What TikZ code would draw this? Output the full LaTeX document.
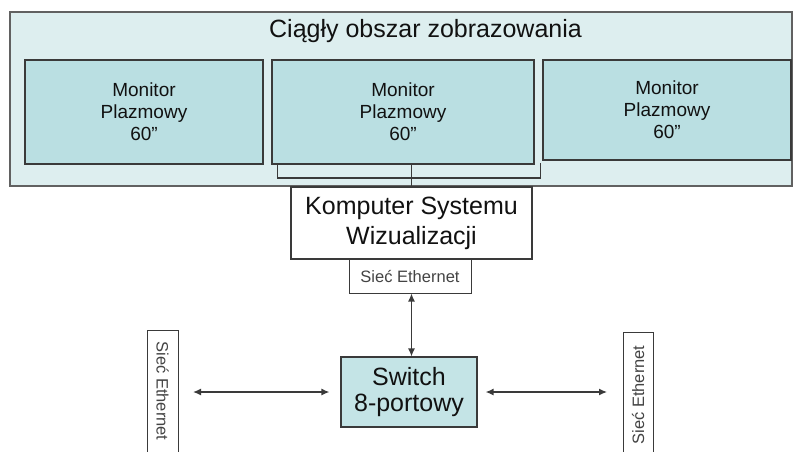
\documentclass[tikz,border=0pt]{standalone}
\usepackage{fontspec}
\setmainfont{Liberation Sans}
\usetikzlibrary{arrows.meta,calc}
\definecolor{areafill}{HTML}{DDEEEF}
\definecolor{monfill}{HTML}{BADFE2}
\definecolor{edge}{HTML}{3A3A3A}
\definecolor{txt}{HTML}{111111}
\definecolor{smalltxt}{HTML}{444444}
\begin{document}
\begin{tikzpicture}[x=1pt,y=-1pt,
  area/.style={draw=edge!80,line width=1.4pt,fill=areafill},
  monitor/.style={draw=edge,line width=1.2pt,fill=monfill,inner sep=0pt,align=center,
    font=\fontsize{19}{22}\selectfont,text=txt},
  bigbox/.style={draw=edge,line width=1.2pt,fill=white,inner sep=0pt,align=center,
    font=\fontsize{25}{30}\selectfont,text=txt},
  switchbox/.style={draw=edge,line width=1.2pt,fill=monfill!85,inner sep=0pt,align=center,
    font=\fontsize{25}{26}\selectfont,text=txt},
  netbox/.style={draw=edge,line width=1pt,fill=white,inner sep=0pt,align=center,
    font=\fontsize{16.5}{18}\selectfont,text=smalltxt},
  link/.style={draw=edge,line width=1.2pt},
  arr/.style={draw=edge,line width=1.3pt,{Latex[length=8pt,width=7pt]}-{Latex[length=8pt,width=7pt]}}
]
\useasboundingbox (0,0) rectangle (794,451);

% continuous display area
\node[area,minimum width=782pt,minimum height=174pt,inner sep=0pt] (area) at (401,99) {};
\node[anchor=base,font=\fontsize{25}{30}\selectfont,text=txt,inner sep=0pt] (title) at (425.5,37) {Ciągły obszar zobrazowania};

% bracket behind the middle monitor
\coordinate (bl) at (277.5,164);
\coordinate (br) at (540.5,163);
\draw[link] (bl) -- (bl |- 0,178) -- (br |- 0,178) -- (br);

% monitors
\node[monitor,minimum width=238pt,minimum height=104pt] (m1) at (144,112) {Monitor\\Plazmowy\\60”};
\node[monitor,minimum width=262pt,minimum height=104pt] (m2) at (403,112) {Monitor\\Plazmowy\\60”};
\node[monitor,minimum width=248pt,minimum height=100pt] (m3) at (667,110) {Monitor\\Plazmowy\\60”};

% visualisation computer
\node[bigbox,minimum width=241pt,minimum height=72pt] (comp) at (411.5,223) {\raisebox{-3pt}{Komputer Systemu}\\\raisebox{-3pt}{Wizualizacji}};
\draw[link] (comp.north |- m2.south) -- (comp.north);

% ethernet label under the computer
\node[netbox,minimum width=122pt,minimum height=34pt] (eth) at (410,276) {Sieć Ethernet};

% switch
\node[switchbox,minimum width=136pt,minimum height=70pt] (switch) at (409,392) {Switch\\8-portowy};

% side ethernet boxes (cut by the lower edge)
\node[netbox,rotate=-90,minimum width=122pt,minimum height=31pt] (lnet) at (162.5,391) {Sieć Ethernet};
\node[netbox,rotate=90,minimum width=126pt,minimum height=30pt] (rnet) at (638,395) {Sieć Ethernet};

% connectors
\draw[arr] (eth.south -| 411.5,0) -- (switch.north -| 411.5,0);
\draw[arr,shorten <=30.5pt,shorten >=11pt] (lnet.center |- switch.west) -- (switch.west);
\draw[arr,shorten <=8pt,shorten >=31pt] (switch.east) -- (rnet.center |- switch.east);
\end{tikzpicture}
\end{document}
